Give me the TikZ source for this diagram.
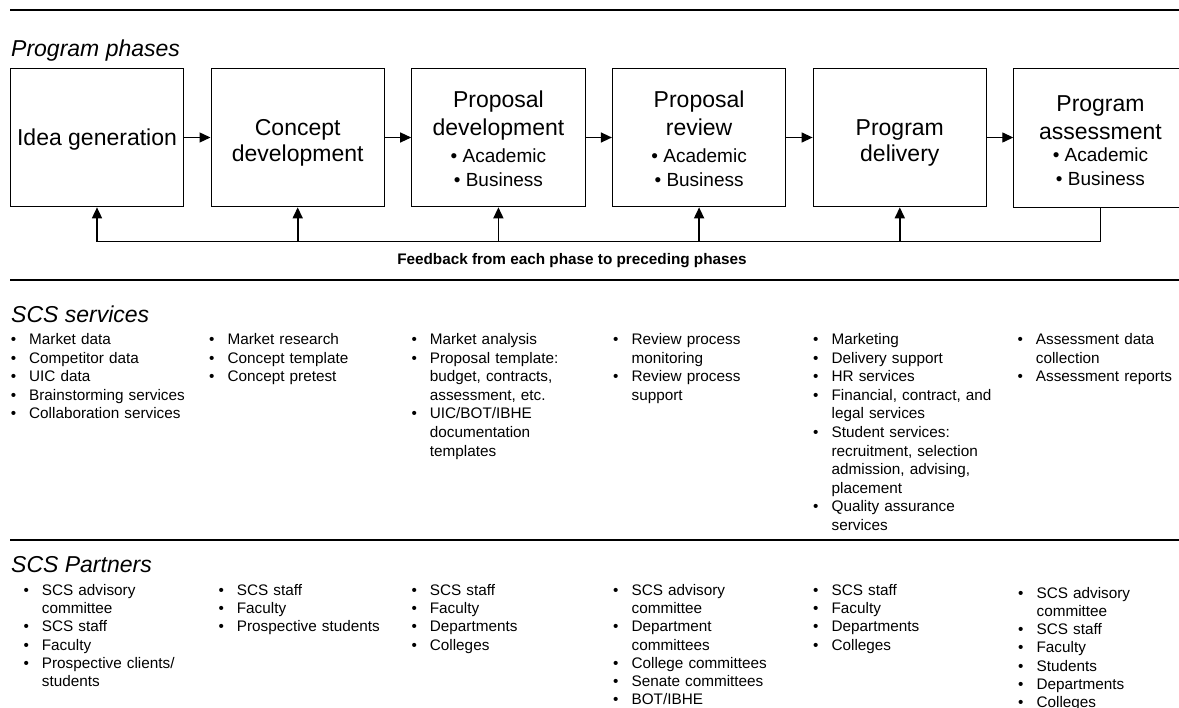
\documentclass[tikz,border=0pt]{standalone}
\usepackage{fontspec}
\setmainfont{Liberation Sans}
\usetikzlibrary{arrows.meta}
\newlength\bulind
\setlength\bulind{18.4pt}
\newcommand{\bitem}[1]{\hangindent=\bulind\hangafter=1\noindent\makebox[\bulind][l]{\textbullet}#1\par}
\newcommand{\tp}[1]{\rule{0pt}{#1}}
\begin{document}
\begin{tikzpicture}[x=1pt,y=-1pt,
  phase/.style={draw, line width=1pt, minimum width=173.4pt, minimum height=138.7pt, inner sep=0pt,
    align=center, font=\fontsize{23}{27.5}\selectfont},
  heading/.style={anchor=base west, inner sep=0pt, font=\fontsize{23}{27}\selectfont\itshape},
  lst/.style={anchor=base west, inner sep=0pt, text width=200pt, align=left, font=\fontsize{15.3}{18.6}\selectfont},
  lstp/.style={lst, font=\fontsize{15.3}{18.2}\selectfont},
  sep/.style={line width=1.2pt},
  arr/.style={line width=1.3pt, -{Triangle[length=11pt,width=10pt]}},
  fbk/.style={line width=1.6pt},
  fbarr/.style={line width=1.6pt, -{Triangle[length=11pt,width=10pt]}},
  lbl/.style={inner sep=0pt, anchor=base, font=\fontsize{15.3}{18}\selectfont\bfseries}
]
\clip (0,0) rectangle (1179,708);
\fill[white] (0,0) rectangle (1179,708);

% separators
\coordinate (s1a) at (10,10);   \coordinate (s1b) at (1179,10);
\coordinate (s2a) at (10,280);  \coordinate (s2b) at (1179,280);
\coordinate (s3a) at (10,540);  \coordinate (s3b) at (1179,540);
\draw[sep] (s1a) -- (s1b);
\draw[sep] (s2a) -- (s2b);
\draw[sep] (s3a) -- (s3b);

% headings
\node[heading] (h1) at (11,56.5) {Program phases};
\node[heading] (h2) at (11,322.5) {SCS services};
\node[heading] (h3) at (11,572.5) {SCS Partners};

% phase boxes
\node[phase] (b1) at (97,137.5) {\tp{20.5pt}Idea generation};
\node[phase] (b2) at (297.7,137.5) {\tp{26pt}Concept\\[-1.5pt]development};
\node[phase] (b3) at (498.4,137.5) {\tp{19.5pt}Proposal\\development\\{\fontsize{19}{23}\selectfont\textbullet\ Academic}\\[-4.1pt]{\fontsize{19}{23}\selectfont\textbullet\ Business}};
\node[phase] (b4) at (699.1,137.5) {\tp{19.5pt}Proposal\\review\\{\fontsize{19}{23}\selectfont\textbullet\ Academic}\\[-4.1pt]{\fontsize{19}{23}\selectfont\textbullet\ Business}};
\node[phase] (b5) at (899.8,137.5) {\tp{26.5pt}Program\\[-1pt]delivery};
\node[phase] (b6) at (1100.5,137.85) {\tp{21pt}Program\\assessment\\[-4.8pt]{\fontsize{19}{23}\selectfont\textbullet\ Academic}\\[-4.2pt]{\fontsize{19}{23}\selectfont\textbullet\ Business}};

% forward arrows
\draw[arr] (b1.east) -- (b2.west);
\draw[arr] (b2.east) -- (b3.west);
\draw[arr] (b3.east) -- (b4.west);
\draw[arr] (b4.east) -- (b5.west);
\draw[arr] (b5.east) -- (b5.east -| b6.west);

% feedback
\coordinate (fbl) at (97,241.7);
\draw[fbk] (b6.south) |- (fbl);
\draw[fbarr] (b1.south |- fbl) -- (b1.south);
\draw[fbarr] (b2.south |- fbl) -- (b2.south);
\draw[fbarr] (b3.south |- fbl) -- (b3.south);
\draw[fbarr] (b4.south |- fbl) -- (b4.south);
\draw[fbarr] (b5.south |- fbl) -- (b5.south);
\node[lbl] (fbt) at (572,265) {Feedback from each phase to preceding phases};

% SCS services
\node[lst] (sv1) at (10.6,344.5) {\bitem{Market data}\bitem{Competitor data}\bitem{UIC data}\bitem{Brainstorming services}\bitem{Collaboration services}};
\node[lst] (sv2) at (209,344.5) {\bitem{Market research}\bitem{Concept template}\bitem{Concept pretest}};
\node[lst] (sv3) at (411.3,344.5) {\bitem{Market analysis}\bitem{Proposal template:\newline budget, contracts,\newline assessment, etc.}\bitem{UIC/BOT/IBHE\newline documentation\newline templates}};
\node[lst] (sv4) at (613,344.5) {\bitem{Review process\newline monitoring}\bitem{Review process\newline support}};
\node[lst] (sv5) at (813,344.5) {\bitem{Marketing}\bitem{Delivery support}\bitem{HR services}\bitem{Financial, contract, and\newline legal services}\bitem{Student services:\newline recruitment, selection\newline admission, advising,\newline placement}\bitem{Quality assurance\newline services}};
\node[lst] (sv6) at (1017.3,344.5) {\bitem{Assessment data\newline collection}\bitem{Assessment reports}};

% SCS partners
\node[lstp] (p1) at (23.3,595.5) {\bitem{SCS advisory\newline committee}\bitem{SCS staff}\bitem{Faculty}\bitem{Prospective clients/\newline students}};
\node[lstp] (p2) at (218.3,595.5) {\bitem{SCS staff}\bitem{Faculty}\bitem{Prospective students}};
\node[lstp] (p3) at (411.3,595.5) {\bitem{SCS staff}\bitem{Faculty}\bitem{Departments}\bitem{Colleges}};
\node[lstp] (p4) at (613,595.5) {\bitem{SCS advisory\newline committee}\bitem{Department\newline committees}\bitem{College committees}\bitem{Senate committees}\bitem{BOT/IBHE}};
\node[lstp] (p5) at (813,595.5) {\bitem{SCS staff}\bitem{Faculty}\bitem{Departments}\bitem{Colleges}};
\node[lstp] (p6) at (1018,598.2) {\bitem{SCS advisory\newline committee}\bitem{SCS staff}\bitem{Faculty}\bitem{Students}\bitem{Departments}\bitem{Colleges}};
\end{tikzpicture}
\end{document}
